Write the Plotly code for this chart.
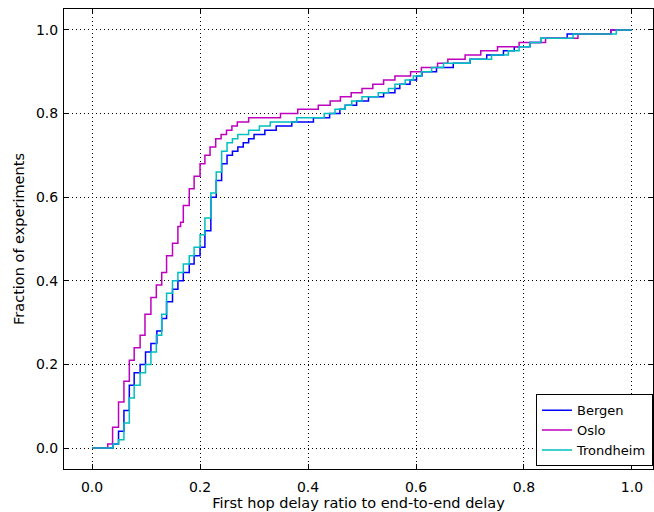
import plotly.graph_objects as go

# Step CDF data (x where the step occurs, y after the step)
bergen_x = [0.0, 0.039, 0.049, 0.059, 0.069, 0.078, 0.089, 0.099, 0.109, 0.12, 0.129, 0.138, 0.149,
            0.159, 0.169, 0.18, 0.189, 0.2, 0.209, 0.22, 0.23, 0.24, 0.25, 0.26, 0.27, 0.28, 0.29,
            0.30, 0.32, 0.341, 0.37, 0.41, 0.44, 0.459, 0.469, 0.49, 0.512, 0.54, 0.561, 0.57,
            0.589, 0.601, 0.611, 0.638, 0.669, 0.70, 0.731, 0.762, 0.782, 0.811, 0.831, 0.88,
            0.961, 1.0]
bergen_y = [0.0, 0.01, 0.04, 0.09, 0.15, 0.18, 0.20, 0.23, 0.25, 0.28, 0.31, 0.35, 0.38,
            0.40, 0.42, 0.44, 0.46, 0.48, 0.52, 0.60, 0.64, 0.68, 0.70, 0.71, 0.72, 0.73, 0.74,
            0.75, 0.76, 0.77, 0.78, 0.79, 0.80, 0.81, 0.82, 0.83, 0.84, 0.85, 0.86, 0.87,
            0.88, 0.89, 0.90, 0.91, 0.92, 0.93, 0.94, 0.95, 0.96, 0.97, 0.98, 0.99,
            1.0, 1.0]

oslo_x = [0.0, 0.029, 0.038, 0.049, 0.059, 0.069, 0.078, 0.089, 0.098, 0.109, 0.119, 0.129, 0.138,
          0.149, 0.159, 0.164, 0.169, 0.18, 0.189, 0.2, 0.209, 0.2185, 0.229, 0.239, 0.249, 0.259,
          0.269, 0.29, 0.349, 0.381, 0.419, 0.441, 0.46, 0.48, 0.50, 0.52, 0.54, 0.561, 0.59,
          0.61, 0.64, 0.659, 0.691, 0.72, 0.751, 0.791, 0.84, 0.90, 0.961, 1.0]
oslo_y = [0.0, 0.01, 0.05, 0.11, 0.16, 0.21, 0.24, 0.27, 0.32, 0.36, 0.39, 0.42, 0.46,
          0.49, 0.53, 0.54, 0.58, 0.62, 0.65, 0.68, 0.70, 0.72, 0.74, 0.75, 0.76, 0.77,
          0.78, 0.79, 0.80, 0.81, 0.82, 0.83, 0.84, 0.85, 0.86, 0.87, 0.88, 0.89, 0.90,
          0.91, 0.92, 0.93, 0.94, 0.95, 0.96, 0.97, 0.98, 0.99, 1.0, 1.0]

trondheim_x = [0.0, 0.039, 0.049, 0.059, 0.069, 0.078, 0.089, 0.099, 0.109, 0.119, 0.129, 0.138,
               0.149, 0.159, 0.169, 0.18, 0.189, 0.2, 0.209, 0.22, 0.23, 0.24, 0.25, 0.26, 0.27,
               0.29, 0.31, 0.33, 0.379, 0.43, 0.45, 0.469, 0.481, 0.50, 0.53, 0.549, 0.561,
               0.58, 0.595, 0.61, 0.629, 0.651, 0.70, 0.74, 0.771, 0.791, 0.811, 0.831, 0.891,
               0.971, 1.0]
trondheim_y = [0.0, 0.01, 0.02, 0.06, 0.12, 0.15, 0.18, 0.20, 0.23, 0.27, 0.32, 0.37,
               0.40, 0.42, 0.44, 0.46, 0.48, 0.51, 0.55, 0.61, 0.66, 0.71, 0.73, 0.74, 0.75,
               0.76, 0.77, 0.78, 0.79, 0.80, 0.81, 0.82, 0.83, 0.84, 0.85, 0.86, 0.87,
               0.88, 0.89, 0.90, 0.91, 0.92, 0.93, 0.94, 0.95, 0.96, 0.97, 0.98, 0.99,
               1.0, 1.0]

tick_vals = [0.0, 0.2, 0.4, 0.6, 0.8, 1.0]
tick_text = ["0.0", "0.2", "0.4", "0.6", "0.8", "1.0"]

series = [
    ("Bergen", bergen_x, bergen_y, "#0000ff"),
    ("Oslo", oslo_x, oslo_y, "#bf00bf"),
    ("Trondheim", trondheim_x, trondheim_y, "#00bfbf"),
]

fig = go.Figure()
for name, xs, ys, col in series:
    fig.add_trace(go.Scatter(x=xs, y=ys, mode="lines", name=name,
                             line=dict(color=col, width=1.5, shape="hv")))

font = "DejaVu Sans, Liberation Sans, sans-serif"
axis_common = dict(
    showline=True, linecolor="black", linewidth=1, mirror="ticks",
    ticks="inside", ticklen=5, tickcolor="black", tickwidth=1,
    showgrid=True, gridcolor="black", griddash="1px,3px", gridwidth=1,
    zeroline=False, tickvals=tick_vals, ticktext=tick_text,
    tickfont=dict(family=font, size=14, color="black"),
    automargin=False,
)

fig.update_layout(
    width=654, height=512,
    margin=dict(l=64, r=1, t=9, b=43),
    paper_bgcolor="white", plot_bgcolor="white",
    font=dict(family=font, size=14, color="black"),
    xaxis=dict(range=[-0.052, 1.039], ticklabelstandoff=5,
               title=dict(text="First hop delay ratio to end-to-end delay",
                          font=dict(family=font, size=14.5), standoff=1),
               **axis_common),
    yaxis=dict(range=[-0.05, 1.05], ticklabelstandoff=2,
               title=dict(text="Fraction of experiments",
                          font=dict(family=font, size=14.5), standoff=7),
               **axis_common),
    legend=dict(x=1, y=0.006, xanchor="right", yanchor="bottom",
                bordercolor="black", borderwidth=1, bgcolor="white",
                font=dict(family=font, size=13), tracegroupgap=0,
                itemwidth=30),
    showlegend=True,
)

fig.write_html("out.html", config={"displayModeBar": False},
               post_script="document.body.style.margin='0';document.body.style.overflow='hidden';")
